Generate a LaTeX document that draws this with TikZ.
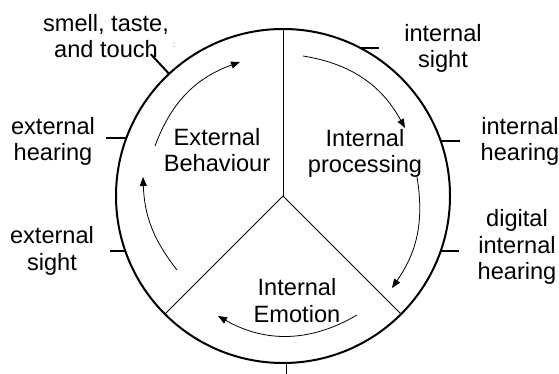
\documentclass[tikz,border=0pt]{standalone}
\usepackage{fontspec}
\setmainfont{Liberation Sans}
\usetikzlibrary{arrows.meta}

\begin{document}
\begin{tikzpicture}[x=1pt, y=1pt,
  lbl/.style={align=center, inner sep=0pt, font=\fontsize{23.6}{26.8}\selectfont},
  rim/.style={line width=2pt},
  marker/.style={line width=2pt},
  divider/.style={line width=0.9pt},
  flow/.style={-{Triangle[length=9pt,width=7pt]}, line width=0.8pt}
]
\useasboundingbox (0,0) rectangle (559,374);

% wheel
\coordinate (c) at (283,178);
\draw[rim] (c) circle (167);
\draw[divider] (c) -- ++(90:167);
\draw[divider] (c) -- ++(225:167);
\draw[divider] (c) -- ++(-45:167);

% sense markers on the rim
\path (c) ++(133:167) coordinate (m1) ++(133:27) coordinate (m1o);
\path (c) ++(159.7:167) coordinate (m2);
\path (c) ++(199.2:167) coordinate (m3);
\path (c) ++(62.4:167) coordinate (m4);
\path (c) ++(19.2:167) coordinate (m5);
\path (c) ++(-19.2:167) coordinate (m6);
\path (c) ++(-88.8:167) coordinate (m7);
\draw[marker] (m1) -- (m1o);
\draw[marker] (m2) -- ++(-20,0);
\draw[marker] (m3) -- ++(-15,0);
\draw[marker] (m4) -- ++(19,0);
\draw[marker] (m5) -- ++(19,0);
\draw[marker] (m6) -- ++(18,0);
\draw[line width=1pt] (m7) -- ++(0,-12);

% labels
\node[lbl] (smell) at (106,338) {smell, taste,\\and touch};
\node[font=\fontsize{9}{9}\selectfont, text=black!55, inner sep=0pt] (colon) at (174,329) {:};
\node[lbl] (exthear) at (53,232.5) {external\\hearing};
\node[lbl] (extsight) at (52,123) {external\\sight};
\node[lbl] (intsight) at (443,325.5) {internal\\sight};
\node[lbl] (inthear) at (520,232.5) {internal\\hearing};
\node[lbl] (digital) at (517,127) {digital\\internal\\hearing};
\node[lbl] (behav) at (217,224) {External\\Behaviour};
\node[lbl] (proc) at (365,220.5) {Internal\\processing};
\node[lbl] (emot) at (297,73.5) {Internal\\Emotion};

% cycle arrows
\coordinate (a1s) at (155,228);
\coordinate (a1e) at (240,312);
\coordinate (a2s) at (303,318);
\coordinate (a2e) at (405,246);
\coordinate (a3s) at (417,197);
\coordinate (a3e) at (392,86);
\coordinate (a4s) at (357,59);
\coordinate (a4e) at (218,58);
\coordinate (a5s) at (177,104);
\coordinate (a5e) at (143,197);
\draw[flow] (a1s) to[bend left=25] (a1e);
\draw[flow] (a2s) to[bend left=26] (a2e);
\draw[flow] (a3s) to[bend left=22] (a3e);
\draw[flow] (a4s) to[bend left=30] (a4e);
\draw[flow] (a5s) to[bend left=18] (a5e);
\end{tikzpicture}
\end{document}
